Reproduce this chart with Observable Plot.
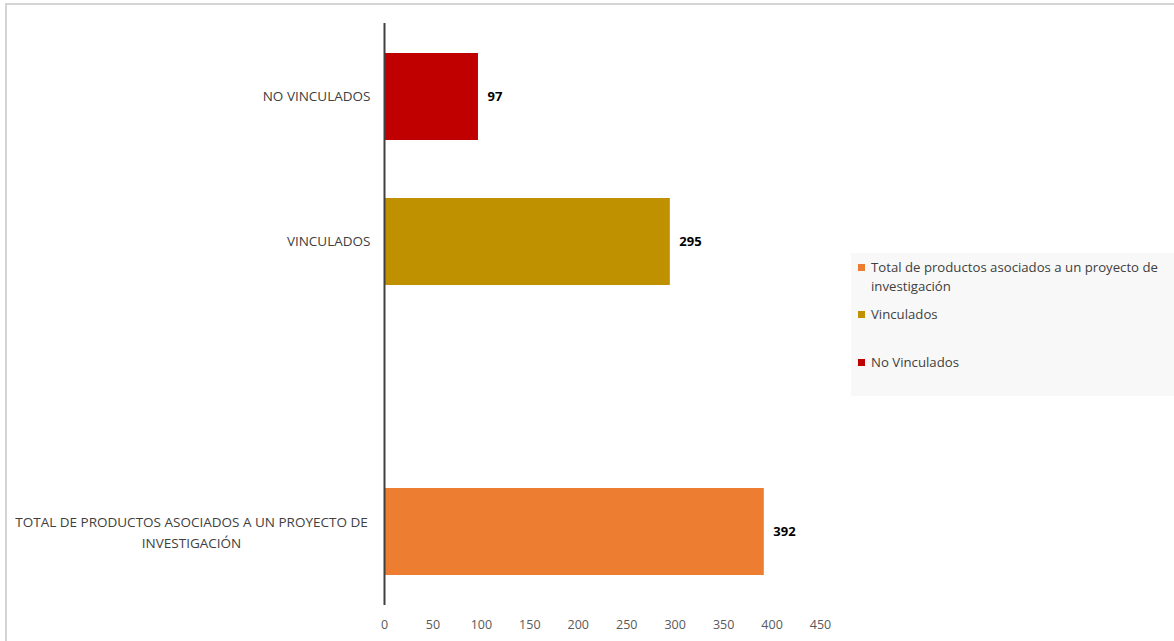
<!DOCTYPE html>
<html>
<head>
<meta charset="utf-8">
<script src="https://cdn.jsdelivr.net/npm/d3@7"></script>
<script src="https://cdn.jsdelivr.net/npm/@observablehq/plot@0.6"></script>
<style>
  body { margin: 0; background: #fff; font-family: "Open Sans", sans-serif; }
  #wrap { position: relative; width: 1174px; height: 641px; overflow: hidden; }
  #border { position: absolute; left: 5px; top: 3px; right: 0; bottom: 0; border-top: 2px solid #d4d4d4; border-left: 2px solid #d4d4d4; pointer-events: none; }
  #legend { position: absolute; left: 851px; top: 253px; width: 323px; height: 143px; background: #f8f8f8; font-family: "Open Sans", sans-serif; font-size: 13.2px; color: #404040; }
  .item { position: absolute; left: 7px; white-space: nowrap; line-height: 19px; }
  .sw { display: inline-block; width: 7px; height: 7px; margin-right: 6px; vertical-align: 1px; }
  #chart svg { position: absolute; left: 0; top: 0; }
</style>
</head>
<body>
<div id="wrap">
  <div id="chart"></div>
  <div id="legend"></div>
  <div id="border"></div>
</div>
<script>
const categories = ["NO VINCULADOS", "VINCULADOS", "(gap)", "TOTAL DE PRODUCTOS ASOCIADOS A UN PROYECTO DE INVESTIGACIÓN"];
const barCategories = ["NO VINCULADOS", "VINCULADOS", "TOTAL DE PRODUCTOS ASOCIADOS A UN PROYECTO DE INVESTIGACIÓN"];
const values = [97, 295, 392];
const colors = ["#C00000", "#BF9000", "#ED7D31"];
const yLabels = ["NO VINCULADOS", "VINCULADOS", "TOTAL DE PRODUCTOS ASOCIADOS A UN PROYECTO DE\nINVESTIGACIÓN"];
const xTicks = [0, 50, 100, 150, 200, 250, 300, 350, 400, 450];
const legendNames = ["Total de productos asociados a un proyecto de investigación", "Vinculados", "No Vinculados"];
const legendColors = ["#ED7D31", "#BF9000", "#C00000"];

const data = barCategories.map((c, i) => ({cat: c, value: values[i], color: colors[i], label: yLabels[i]}));
const single = data.filter(d => !d.label.includes("\n"));
const multi = data.filter(d => d.label.includes("\n"));

const chart = Plot.plot({
  width: 1174,
  height: 641,
  marginLeft: 384,
  marginRight: 354,
  marginTop: 23,
  marginBottom: 36,
  style: {fontFamily: "Open Sans, sans-serif", fontSize: "12px", background: "transparent"},
  x: {domain: [0, 450], ticks: xTicks, tickSize: 0, tickPadding: 15, label: null},
  y: {domain: categories, paddingInner: 0.4, paddingOuter: 0.2, axis: null},
  marks: [
    Plot.axisX({ticks: xTicks, tickSize: 0, tickPadding: 15, label: null, color: "#595959", fontSize: 12.5}),
    Plot.barX(data, {y: "cat", x: "value", fill: "color"}),
    Plot.ruleX([0], {stroke: "#404040", strokeWidth: 2}),
    Plot.text(data, {y: "cat", x: "value", text: d => String(d.value), textAnchor: "start", dx: 9, fontWeight: "bold", fill: "#000", fontSize: 13}),
    Plot.text(single, {y: "cat", x: () => 0, text: "label", textAnchor: "end", dx: -14, fill: "#404040", fontSize: 13.5}),
    Plot.text(multi, {y: "cat", x: () => 0, text: "label", textAnchor: "middle", dx: -193, dy: -1.5, lineHeight: 1.55, fill: "#404040", fontSize: 13.5})
  ]
});
document.getElementById("chart").appendChild(chart);

const legend = document.getElementById("legend");
const tops = [5, 52, 100];
legendNames.forEach((n, i) => {
  const el = document.createElement("div");
  el.className = "item";
  el.style.top = tops[i] + "px";
  if (i === 0) {
    el.innerHTML = `<span class="sw" style="background:${legendColors[i]}"></span>Total de productos asociados a un proyecto de<br><span style="padding-left:13px">investigación</span>`;
  } else {
    el.innerHTML = `<span class="sw" style="background:${legendColors[i]}"></span>${n}`;
  }
  legend.appendChild(el);
});
</script>
</body>
</html>
